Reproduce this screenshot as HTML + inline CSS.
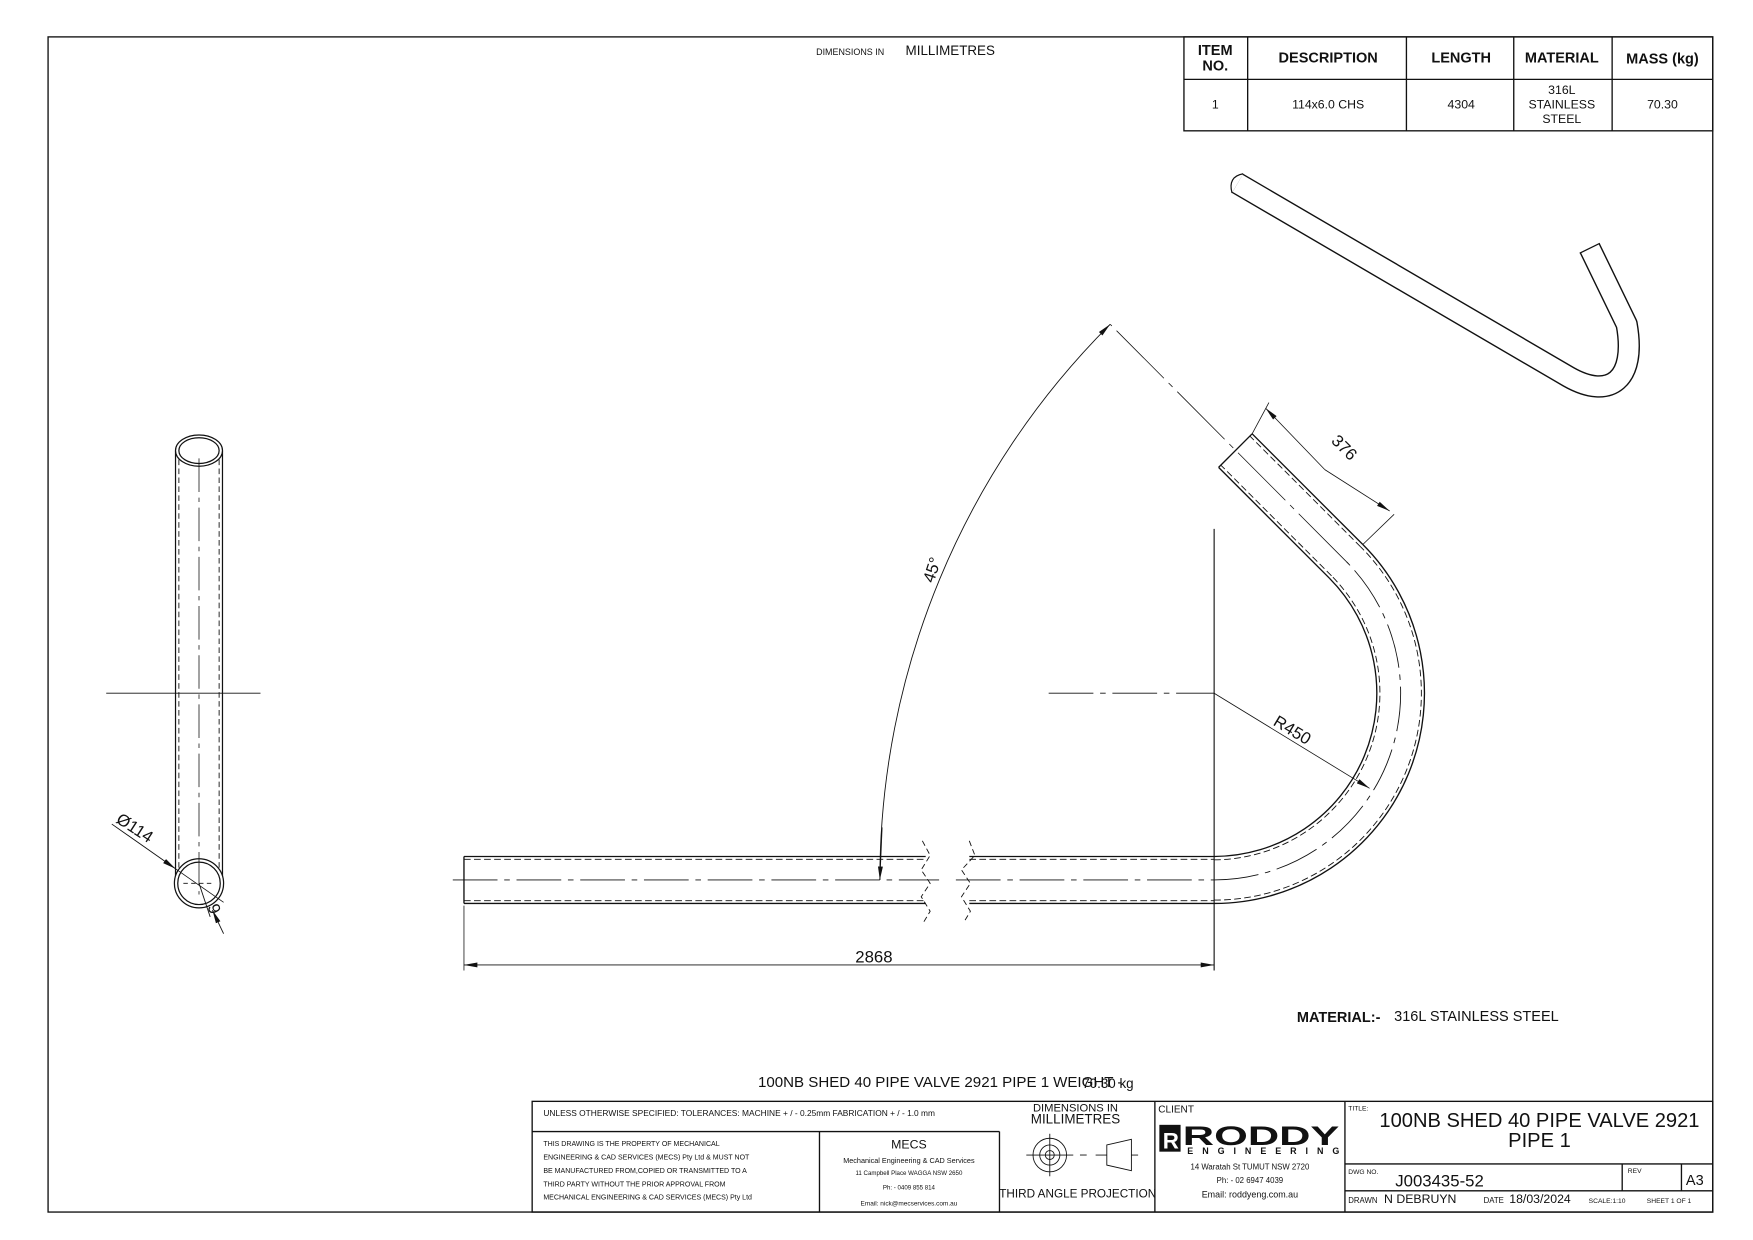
<!DOCTYPE html>
<html><head><meta charset="utf-8"><style>
html,body{margin:0;padding:0;background:#fff;}
svg{display:block;}
text{font-family:"Liberation Sans",sans-serif;fill:#111;}
</style></head><body>
<svg width="1753" height="1240" viewBox="0 0 1568 1109" preserveAspectRatio="none" xmlns="http://www.w3.org/2000/svg">
<defs>
<marker id="ar" viewBox="0 0 12 6" refX="12" refY="3" markerWidth="12" markerHeight="6" markerUnits="userSpaceOnUse" orient="auto"><path d="M0,0.8 L12,3 L0,5.2z" fill="#111"/></marker>
</defs>
<rect x="43" y="33" width="1489" height="1051" fill="none" stroke="#111" stroke-width="1.2"/>
<text x="730" y="49" font-size="8">DIMENSIONS IN</text>
<text x="810" y="49" font-size="12">MILLIMETRES</text>

<g stroke="#111" stroke-width="1.2" fill="none">
<rect x="1059" y="33" width="473" height="84"/>
<line x1="1059" y1="71" x2="1532" y2="71"/>
<line x1="1116" y1="33" x2="1116" y2="117"/>
<line x1="1258" y1="33" x2="1258" y2="117"/>
<line x1="1354" y1="33" x2="1354" y2="117"/>
<line x1="1442" y1="33" x2="1442" y2="117"/>
</g>
<g font-size="13" font-weight="bold" text-anchor="middle">
<text x="1087" y="49">ITEM</text><text x="1087" y="63">NO.</text>
<text x="1188" y="56">DESCRIPTION</text>
<text x="1307" y="56">LENGTH</text>
<text x="1397" y="56">MATERIAL</text>
<text x="1487" y="57">MASS (kg)</text>
</g>
<g font-size="11" text-anchor="middle">
<text x="1087" y="97">1</text>
<text x="1188" y="97">114x6.0 CHS</text>
<text x="1307" y="97">4304</text>
<text x="1397" y="84">316L</text><text x="1397" y="97">STAINLESS</text><text x="1397" y="110">STEEL</text>
<text x="1487" y="97">70.30</text>
</g>

<g stroke="#111" fill="none" stroke-width="1.1">
<line x1="157" y1="403" x2="157" y2="787"/>
<line x1="199" y1="403" x2="199" y2="787"/>
<line x1="160" y1="403" x2="160" y2="787" stroke-dasharray="5,3" stroke-width="0.8"/>
<line x1="196" y1="403" x2="196" y2="787" stroke-dasharray="5,3" stroke-width="0.8"/>
<ellipse cx="178" cy="403" rx="21" ry="14" fill="#fff"/>
<ellipse cx="178" cy="403" rx="18" ry="11.5"/>
<circle cx="178" cy="790" r="22" fill="#fff"/>
<circle cx="178" cy="790" r="19"/>
<line x1="95" y1="620" x2="233" y2="620" stroke-width="0.8"/>
<line x1="178" y1="410" x2="178" y2="800" stroke-width="0.7" stroke-dasharray="30,5,4,5"/>
<line x1="164" y1="790" x2="192" y2="790" stroke-width="0.7" stroke-dasharray="4,3"/>
<line x1="100" y1="737" x2="157" y2="777" stroke-width="0.8" marker-end="url(#ar)"/>
<line x1="157" y1="777" x2="200" y2="807" stroke-width="0.7"/>
<line x1="178" y1="790" x2="188" y2="820" stroke-width="0.8"/>
<line x1="200" y1="835" x2="190" y2="814" stroke-width="0.8" marker-end="url(#ar)"/>
</g>
<text x="0" y="0" font-size="15" transform="translate(103,735) rotate(33)">Ø114</text>
<text x="0" y="0" font-size="15" transform="translate(198,815) rotate(-110)">6</text>

<g stroke="#111" fill="none" stroke-width="1.2">
<line x1="415" y1="766" x2="415" y2="808"/>
<line x1="415" y1="766" x2="828" y2="766"/>
<line x1="415" y1="808" x2="828" y2="808"/>
<line x1="415" y1="768.5" x2="828" y2="768.5" stroke-dasharray="6,3" stroke-width="0.8"/>
<line x1="415" y1="805.5" x2="828" y2="805.5" stroke-dasharray="6,3" stroke-width="0.8"/>
<line x1="867" y1="766" x2="1086" y2="766"/>
<line x1="867" y1="808" x2="1086" y2="808"/>
<line x1="867" y1="768.5" x2="1086" y2="768.5" stroke-dasharray="6,3" stroke-width="0.8"/>
<line x1="867" y1="805.5" x2="1086" y2="805.5" stroke-dasharray="6,3" stroke-width="0.8"/>
<line x1="405" y1="787" x2="840" y2="787" stroke-width="0.8" stroke-dasharray="40,6,5,6"/>
<line x1="855" y1="787" x2="1086" y2="787" stroke-width="0.8" stroke-dasharray="40,6,5,6"/>
<polyline points="825,752 832,765 824,778 832,790 824,802 832,815 826,825" stroke-width="0.8" stroke-dasharray="5,3"/>
<polyline points="867,752 872,765 860,778 868,790 860,802 868,815 862,825" stroke-width="0.8" stroke-dasharray="5,3"/>
<path d="M1086,766 A146,146 0 0 0 1189,517"/>
<path d="M1086,808 A188,188 0 0 0 1219,487"/>
<path d="M1086,769 A149,149 0 0 0 1191,515" stroke-dasharray="6,3" stroke-width="0.8"/>
<path d="M1086,805 A185,185 0 0 0 1217,489" stroke-dasharray="6,3" stroke-width="0.8"/>
<path d="M1086,787 A167,167 0 0 0 1204,502" stroke-dasharray="40,6,5,6" stroke-width="0.8"/>
<line x1="1189" y1="517" x2="1090" y2="418"/>
<line x1="1219" y1="487" x2="1120" y2="388"/>
<line x1="1090" y1="418" x2="1120" y2="388"/>
<line x1="1191" y1="515" x2="1092" y2="416" stroke-dasharray="6,3" stroke-width="0.8"/>
<line x1="1217" y1="489" x2="1118" y2="390" stroke-dasharray="6,3" stroke-width="0.8"/>
<line x1="1204" y1="502" x2="993" y2="290" stroke-width="0.7" stroke-dasharray="60,6,5,6"/>
<line x1="1120" y1="388" x2="1135" y2="360" stroke-width="0.7"/>
<line x1="1219" y1="487" x2="1247" y2="460" stroke-width="0.7"/>
<line x1="1185" y1="420" x2="1132" y2="365" stroke-width="0.7" marker-end="url(#ar)"/>
<line x1="1185" y1="420" x2="1243" y2="457" stroke-width="0.7" marker-end="url(#ar)"/>
<path d="M787,787 A702,702 0 0 1 993,290" stroke-width="0.8" marker-end="url(#ar)"/>
<line x1="789" y1="740" x2="787" y2="787" stroke-width="0.8" marker-end="url(#ar)"/>
<line x1="1086" y1="473" x2="1086" y2="868" stroke-width="1"/>
<line x1="938" y1="620" x2="1086" y2="620" stroke-width="0.8" stroke-dasharray="40,6,5,6"/>
<line x1="1086" y1="620" x2="1225" y2="705" stroke-width="0.7" marker-end="url(#ar)"/>
<line x1="415" y1="810" x2="415" y2="868" stroke-width="0.7"/>
<line x1="750" y1="863" x2="415" y2="863" stroke-width="0.7" marker-end="url(#ar)"/>
<line x1="750" y1="863" x2="1086" y2="863" stroke-width="0.7" marker-end="url(#ar)"/>
</g>
<text x="0" y="0" font-size="15" transform="translate(1190,395) rotate(45)">376</text>
<text x="0" y="0" font-size="15" transform="translate(835,522) rotate(-72)">45°</text>
<text x="0" y="0" font-size="15" transform="translate(1138,648) rotate(31)">R450</text>
<text x="765" y="861" font-size="15">2868</text>

<path d="M1107,164 L1403,337 C1440,358 1464,340 1455,290 L1422,222" fill="none" stroke="#111" stroke-width="20" stroke-linejoin="round"/>
<path d="M1107,164 L1403,337 C1440,358 1464,340 1455,290 L1422,222" fill="none" stroke="#fff" stroke-width="17.5" stroke-linejoin="round"/>
<path d="M1112,155.4 Q1098,158 1102,172.6" fill="none" stroke="#111" stroke-width="1.1"/>
<line x1="1413" y1="226.4" x2="1431" y2="217.6" stroke="#111" stroke-width="1.1"/>

<text x="1160" y="914" font-size="13" font-weight="bold">MATERIAL:-</text>
<text x="1247" y="913" font-size="13">316L STAINLESS STEEL</text>
<text x="678" y="972" font-size="13.5">100NB SHED 40 PIPE VALVE 2921 PIPE 1</text>
<text x="942" y="972" font-size="13.5">WEIGHT -</text>
<text x="968" y="973" font-size="12">70.30 kg</text>

<g stroke="#111" fill="none" stroke-width="1.2">
<rect x="476" y="985" width="1056" height="99"/>
<line x1="476" y1="1012" x2="894" y2="1012"/>
<line x1="733" y1="1012" x2="733" y2="1084"/>
<line x1="894" y1="1012" x2="894" y2="1084"/>
<line x1="1033" y1="985" x2="1033" y2="1084"/>
<line x1="1203" y1="985" x2="1203" y2="1084"/>
<line x1="1203" y1="1041" x2="1532" y2="1041"/>
<line x1="1203" y1="1065" x2="1532" y2="1065"/>
<line x1="1451" y1="1041" x2="1451" y2="1065"/>
<line x1="1504" y1="1041" x2="1504" y2="1065"/>
<circle cx="939" cy="1033" r="15" stroke-width="0.8"/>
<circle cx="939" cy="1033" r="9" stroke-width="0.8"/>
<circle cx="939" cy="1033" r="4" stroke-width="0.8"/>
<line x1="918" y1="1033" x2="960" y2="1033" stroke-width="0.8"/>
<line x1="939" y1="1014" x2="939" y2="1052" stroke-width="0.8"/>
<line x1="966" y1="1033" x2="972" y2="1033" stroke-width="0.8"/>
<path d="M980,1033 L990,1033 M990,1024 L1012,1019 L1012,1047 L990,1042 Z M1012,1033 L1018,1033" stroke-width="0.8"/>
</g>
<text x="486" y="998" font-size="7.5">UNLESS OTHERWISE SPECIFIED: TOLERANCES: MACHINE + / - 0.25mm  FABRICATION + / - 1.0 mm</text>
<text x="962" y="994" font-size="10" text-anchor="middle">DIMENSIONS IN</text>
<text x="962" y="1005" font-size="12" text-anchor="middle">MILLIMETRES</text>
<g font-size="6.3">
<text x="486" y="1025">THIS DRAWING IS THE PROPERTY OF MECHANICAL</text>
<text x="486" y="1037">ENGINEERING &amp; CAD SERVICES (MECS) Pty Ltd &amp; MUST NOT</text>
<text x="486" y="1049">BE MANUFACTURED FROM,COPIED OR TRANSMITTED TO A</text>
<text x="486" y="1061">THIRD PARTY WITHOUT THE PRIOR APPROVAL FROM</text>
<text x="486" y="1073">MECHANICAL ENGINEERING &amp; CAD SERVICES (MECS) Pty Ltd</text>
</g>
<g text-anchor="middle">
<text x="813" y="1027" font-size="11">MECS</text>
<text x="813" y="1040" font-size="6.5">Mechanical Engineering &amp; CAD Services</text>
<text x="813" y="1051" font-size="5.5">11 Campbell Place WAGGA NSW 2650</text>
<text x="813" y="1064" font-size="5.5">Ph: - 0409 855 814</text>
<text x="813" y="1078" font-size="5.8">Email: nick@mecservices.com.au</text>
<text x="964" y="1071" font-size="10.5">THIRD ANGLE PROJECTION</text>
<text x="1118" y="1046" font-size="7">14 Waratah St TUMUT NSW 2720</text>
<text x="1118" y="1058" font-size="7">Ph: - 02 6947 4039</text>
<text x="1118" y="1071" font-size="8">Email: roddyeng.com.au</text>
</g>
<text x="1036" y="995" font-size="9">CLIENT</text>
<rect x="1037" y="1006" width="19" height="24" fill="#111"/>
<text x="1040" y="1027" font-size="20" font-weight="bold" style="fill:#fff">R</text>
<text x="1058" y="1024" font-size="24" font-weight="bold" textLength="140" lengthAdjust="spacingAndGlyphs">RODDY</text>
<text x="1062" y="1032" font-size="8" font-weight="bold" textLength="136" lengthAdjust="spacing">ENGINEERING</text>
<text x="1206" y="993" font-size="6">TITLE:</text>
<text x="1377" y="1008" font-size="18" text-anchor="middle">100NB SHED 40 PIPE VALVE 2921</text>
<text x="1377" y="1026" font-size="18" text-anchor="middle">PIPE 1</text>
<text x="1206" y="1050" font-size="6">DWG NO.</text>
<text x="1248" y="1061" font-size="15">J003435-52</text>
<text x="1456" y="1049" font-size="6">REV</text>
<text x="1508" y="1060" font-size="13">A3</text>
<text x="1206" y="1076" font-size="7">DRAWN</text>
<text x="1238" y="1076" font-size="11">N DEBRUYN</text>
<text x="1327" y="1076" font-size="7">DATE</text>
<text x="1350" y="1076" font-size="11">18/03/2024</text>
<text x="1421" y="1076" font-size="6">SCALE:1:10</text>
<text x="1473" y="1076" font-size="6">SHEET 1 OF 1</text>
</svg>
</body></html>
